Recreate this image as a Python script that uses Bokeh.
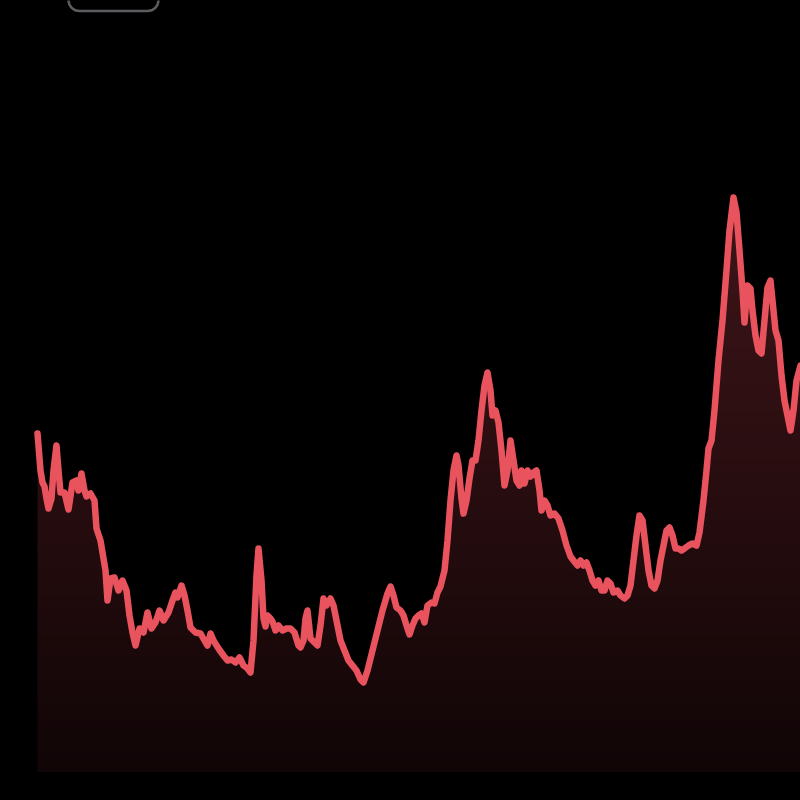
import numpy as np
from bokeh.plotting import figure
from bokeh.models import Range1d, BoxAnnotation
from bokeh.embed import file_html
from bokeh.resources import INLINE

# Time positions (horizontal) and price levels
days = [
    37, 40, 42, 44, 46, 48, 51, 53, 56, 58,
    60, 64, 68, 72, 76, 78, 81, 84, 86, 90,
    94, 96, 100, 102, 105, 107, 110, 114, 118, 122,
    126, 129, 132, 135, 139, 143, 147, 151, 155, 159,
    163, 168, 172, 175, 177, 181, 184, 187, 190, 195,
    200, 204, 207, 210, 213, 218, 223, 227, 231, 235,
    239, 243, 247, 250, 253, 256, 258, 261, 263, 265,
    267, 270, 272, 275, 278, 282, 286, 290, 294, 298,
    300, 303, 305, 307, 310, 314, 317, 320, 323, 326,
    330, 333, 336, 340, 344, 348, 352, 356, 360, 363,
    367, 372, 377, 382, 387, 390, 393, 396, 400, 403,
    406, 409, 412, 415, 418, 421, 424, 427, 431, 434,
    437, 440, 444, 447, 450, 453, 456, 458, 461, 463,
    466, 469, 472, 475, 478, 481, 484, 487, 490, 492,
    495, 498, 501, 504, 507, 510, 513, 516, 519, 521,
    524, 527, 530, 533, 536, 539, 541, 544, 547, 550,
    554, 558, 562, 566, 570, 573, 577, 580, 583, 586,
    589, 592, 595, 598, 601, 604, 607, 610, 613, 617,
    620, 624, 627, 630, 633, 636, 639, 642, 645, 648,
    651, 654, 657, 660, 663, 666, 669, 672, 675, 678,
    681, 684, 688, 692, 696, 699, 703, 706, 708, 711,
    714, 718, 722, 726, 729, 733, 736, 739, 742, 744,
    747, 750, 752, 755, 758, 761, 764, 767, 770, 773,
    775, 778, 781, 784, 787, 790, 793, 796, 800,
]

price = [
    338, 301, 289, 285, 273, 263, 273, 301, 326, 301,
    279, 279, 262, 289, 291, 281, 298, 281, 275, 278,
    271, 243, 231, 219, 201, 171, 193, 194, 181, 191,
    181, 156, 139, 126, 143, 139, 159, 143, 149, 161,
    151, 159, 171, 179, 174, 186, 176, 161, 144, 139,
    138, 131, 126, 138, 131, 123, 116, 111, 112, 109,
    114, 106, 103, 99, 131, 196, 223, 191, 153, 145,
    156, 153, 150, 141, 146, 141, 143, 143, 139, 126,
    124, 131, 153, 161, 133, 129, 126, 146, 173, 166,
    173, 166, 151, 131, 121, 111, 106, 101, 92, 89,
    101, 121, 141, 161, 178, 185, 176, 164, 161, 156,
    146, 137, 146, 153, 156, 158, 149, 166, 169, 168,
    179, 185, 201, 231, 271, 301, 316, 306, 273, 258,
    271, 293, 311, 311, 331, 361, 386, 399, 381, 356,
    361, 349, 321, 286, 301, 331, 311, 291, 286, 301,
    288, 301, 295, 299, 301, 281, 261, 271, 266, 256,
    258, 253, 241, 226, 215, 211, 206, 211, 206, 209,
    201, 191, 186, 191, 181, 181, 191, 188, 179, 181,
    176, 173, 176, 186, 211, 236, 256, 251, 226, 201,
    186, 183, 191, 211, 226, 241, 244, 236, 223, 223,
    221, 223, 226, 228, 226, 239, 271, 301, 323, 331,
    361, 411, 451, 501, 541, 574, 559, 521, 481, 449,
    486, 483, 461, 436, 421, 418, 451, 484, 491, 461,
    441, 431, 396, 371, 356, 341, 361, 391, 406,
]

LINE_COLOR = "#e9535d"
FILL_TOP = "#3f1519"

p = figure(width=800, height=800, output_backend="svg", toolbar_location=None,
           x_range=Range1d(0, 800), y_range=Range1d(-29, 771),
           x_axis_location=None, y_axis_location=None, min_border=0,
           background_fill_color="#000000", border_fill_color="#000000",
           outline_line_color=None)
p.grid.visible = False

# area under the line
p.varea(x=days, y1=0, y2=price, fill_color=FILL_TOP, fill_alpha=1.0)

# vertical darkening gradient (black with rising alpha toward the bottom)
peak = max(price)
n = int(peak)
img = np.zeros((n, 1), dtype=np.uint32)
view = img.view(dtype=np.uint8).reshape((n, 1, 4))
alpha = 0.74 * (1.0 - np.arange(n) / (n - 1))
view[:, 0, 3] = (alpha * 255).astype(np.uint8)
p.image_rgba(image=[img], x=0, y=0, dw=800, dh=peak)

# price line
p.line(days, price, line_color=LINE_COLOR, line_width=6.5,
       line_join="round", line_cap="round")

# partially visible rounded button at top
p.add_layout(BoxAnnotation(left=68, right=158, bottom=760.5, top=820,
                           fill_alpha=0, line_color="#5c5c61", line_alpha=1.0,
                           line_width=2.5, border_radius=11))

html = file_html(p, INLINE, title="chart")
html = html.replace("</head>",
                    "<style>html,body{margin:0;padding:0;background:#000000;}</style></head>", 1)
open("out.html", "w").write(html)
